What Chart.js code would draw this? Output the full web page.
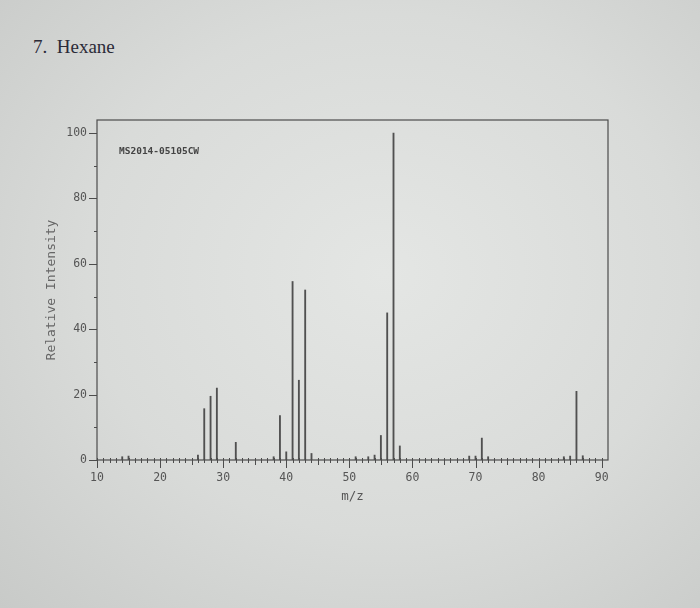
<!DOCTYPE html>
<html>
<head>
<meta charset="utf-8">
<script src="https://cdn.jsdelivr.net/npm/chart.js@4/dist/chart.umd.min.js"></script>
<style>
  html, body { margin: 0; padding: 0; }
  body {
    width: 700px; height: 608px; overflow: hidden; position: relative;
    background: radial-gradient(ellipse at 55% 45%, #e4e6e4 0%, #d9dbd9 55%, #c8cac8 100%);
  }
  #title {
    position: absolute; left: 33px; top: 36px;
    font-family: "Liberation Serif", "DejaVu Serif", serif; font-size: 19px; color: #2b2b38;
    white-space: pre;
  }
  #wrap { position: absolute; left: 0; top: 0; width: 700px; height: 608px; }
</style>
</head>
<body>
<div id="title">7.  Hexane</div>
<div id="wrap"><canvas id="c" width="700" height="608"></canvas></div>
<script>
// m/z values of the peaks
const mz = [14, 15, 26, 27, 28, 29, 32, 38, 39, 40, 41, 42, 43, 44, 51, 53, 54, 55, 56, 57, 58, 69, 70, 71, 72, 84, 85, 86, 87];
// relative intensities
const intensity = [1, 1.2, 1.5, 15.7, 19.5, 22, 5.4, 1, 13.6, 2.5, 54.6, 24.4, 52, 2, 1, 1, 1.5, 7.5, 45, 100, 4.3, 1.2, 1.2, 6.7, 1, 1, 1.2, 21, 1.3];
// axis tick labels
const xTickLabels = [10, 20, 30, 40, 50, 60, 70, 80, 90];
const yTickLabels = [0, 20, 40, 60, 80, 100];
const annotation = "MS2014-05105CW";

const INK = '#4c4c4c';
const MONO = '"DejaVu Sans Mono", "Liberation Mono", monospace';

const framePlugin = {
  id: 'frame',
  afterDraw(chart) {
    const {ctx, chartArea: a, scales: {x, y}} = chart;
    ctx.save();
    ctx.strokeStyle = INK;
    ctx.lineWidth = 1.2;
    ctx.strokeRect(a.left, a.top, a.right - a.left, a.bottom - a.top);
    ctx.lineWidth = 1;
    for (let v = 10; v <= 90; v++) {
      const px = Math.round(x.getPixelForValue(v)) + 0.5;
      let below = 3, above = 2;
      if (v % 10 === 0) { below = 8; }
      else if (v % 5 === 0) { below = 5; }
      ctx.beginPath();
      ctx.moveTo(px, a.bottom - above);
      ctx.lineTo(px, a.bottom + below);
      ctx.stroke();
    }
    for (let v = 0; v <= 100; v += 10) {
      const py = Math.round(y.getPixelForValue(v)) + 0.5;
      const len = v % 20 === 0 ? 8 : 3;
      ctx.beginPath();
      ctx.moveTo(a.left - len, py);
      ctx.lineTo(a.left, py);
      ctx.stroke();
    }
    ctx.fillStyle = '#444';
    ctx.font = 'bold 9.5px ' + MONO;
    ctx.textBaseline = 'middle';
    ctx.fillText(annotation, a.left + 22, y.getPixelForValue(94.5));
    ctx.restore();
  }
};

new Chart(document.getElementById('c'), {
  type: 'bar',
  data: {
    datasets: [{
      data: mz.map((m, i) => ({x: m, y: intensity[i]})),
      backgroundColor: '#505050',
      borderWidth: 0,
      barThickness: 1.2
    }]
  },
  options: {
    responsive: false,
    animation: false,
    layout: { padding: { left: 0, right: 92, top: 120, bottom: 0 } },
    plugins: { legend: { display: false }, tooltip: { enabled: false } },
    scales: {
      x: {
        type: 'linear', min: 10, max: 91, offset: false,
        afterBuildTicks: s => { s.ticks = xTickLabels.map(v => ({value: v})); },
        afterFit: s => { s.height = 148; },
        grid: { display: false, drawTicks: false },
        border: { display: false },
        ticks: { padding: 11, maxRotation: 0, autoSkip: false, color: '#555', font: { family: MONO, size: 11.5 } },
        title: { display: true, text: 'm/z', color: '#555', font: { family: MONO, size: 12.5 }, padding: { top: 0, bottom: 104 } }
      },
      y: {
        type: 'linear', min: 0, max: 104,
        afterBuildTicks: s => { s.ticks = yTickLabels.map(v => ({value: v})); },
        afterFit: s => { s.width = 97; },
        grid: { display: false, drawTicks: false },
        border: { display: false },
        ticks: { padding: 10, color: '#555', font: { family: MONO, size: 11.5 } },
        title: { display: true, text: 'Relative Intensity', color: '#666', font: { family: MONO, size: 13 }, padding: { top: 44, bottom: 0 } }
      }
    }
  },
  plugins: [framePlugin]
});
</script>
</body>
</html>
